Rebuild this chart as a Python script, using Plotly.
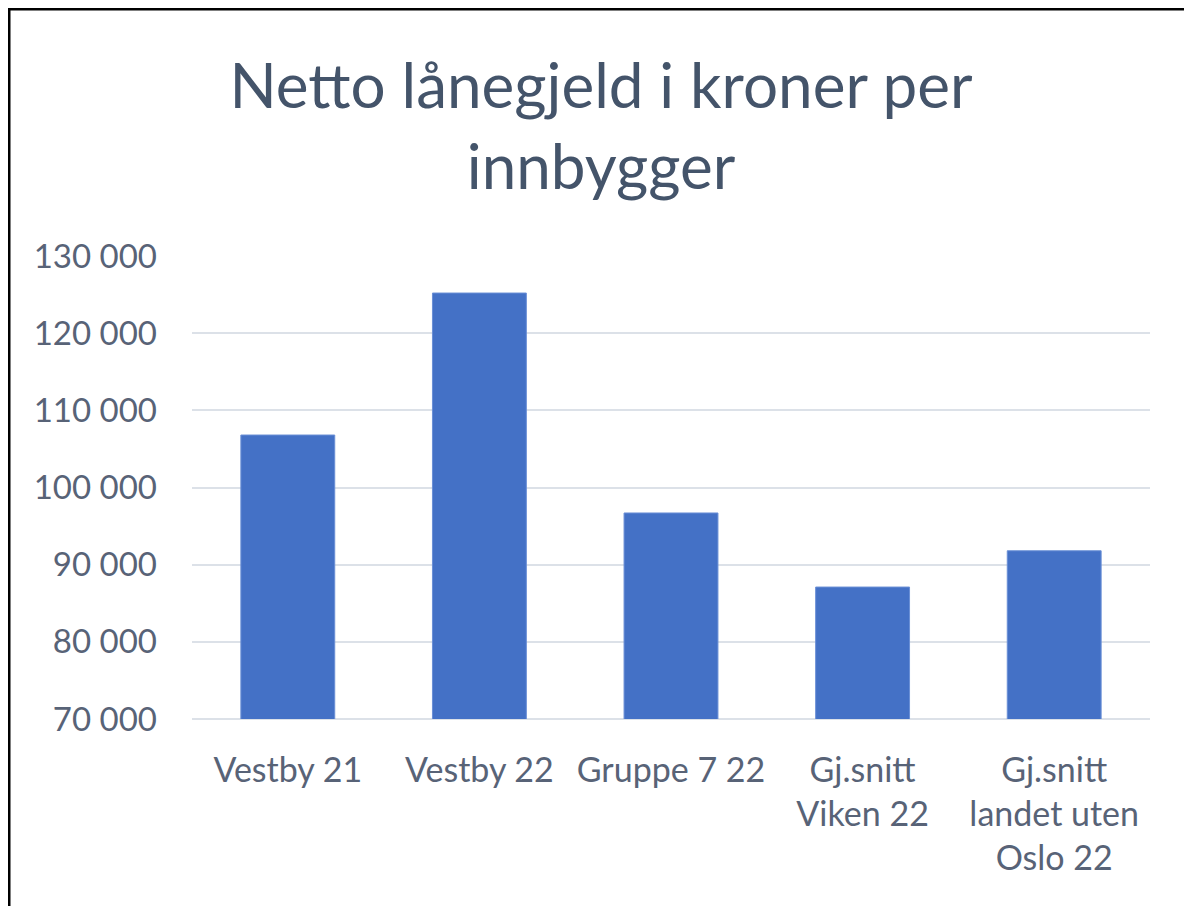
import plotly.graph_objects as go

categories = ["Vestby 21", "Vestby 22", "Gruppe 7 22", "Gj.snitt<br>Viken 22", "Gj.snitt<br>landet uten<br>Oslo 22"]
values = [106800, 125200, 96700, 87100, 91800]
y_ticks = [70000, 80000, 90000, 100000, 110000, 120000, 130000]

W, H = 1192, 906
OFF = 8  # page body margin
ML, MR, MT, MB = 184, 50, 248, 195
pw, ph = W - ML - MR, H - MT - MB

fig = go.Figure(go.Bar(
    x=categories, y=values,
    width=0.49,
    marker=dict(color="#4471c6", line=dict(color="#6a8fd6", width=1)),
))

def px(x):
    return (x - OFF - ML) / pw

def py(y):
    return (H + OFF - MB - y) / ph

fig.update_layout(
    width=W, height=H,
    margin=dict(l=ML, r=MR, t=MT, b=MB),
    paper_bgcolor="white", plot_bgcolor="white",
    separators=", ",
    font=dict(family="Lato", color="#586377", size=33),
    title=dict(text="Netto lånegjeld i kroner per<br>innbygger", x=(601 - OFF) / W, xanchor="center",
               y=1 - (108 - OFF) / H, yanchor="middle",
               font=dict(family="Lato", size=62, color="#44546a")),
    showlegend=False,
    xaxis=dict(showgrid=False, showline=False, ticks="", tickfont=dict(size=34),
               ticklabelstandoff=28),
    yaxis=dict(range=[70000, 130000], tickvals=y_ticks, tickformat=",d",
               showgrid=True, gridcolor="#dce1e8", gridwidth=2,
               zeroline=False, showline=False, ticks="", ticklabelstandoff=34,
               tickfont=dict(size=33)),
    shapes=[
        dict(type="line", xref="paper", yref="paper", x0=px(9), x1=px(9), y0=py(9), y1=py(H + 20),
             line=dict(color="black", width=3)),
        dict(type="line", xref="paper", yref="paper", x0=px(8), x1=px(W + 20), y0=py(9), y1=py(9),
             line=dict(color="black", width=3)),
        dict(type="line", xref="paper", yref="paper", x0=0, x1=1, y0=0, y1=0,
             line=dict(color="#dce1e8", width=2), layer="below"),
    ],
)

fig.write_html("out.html")
